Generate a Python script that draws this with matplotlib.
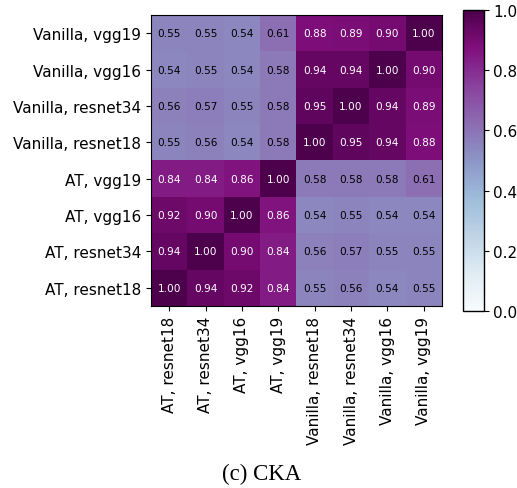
import numpy as np
import matplotlib
matplotlib.use("Agg")
import matplotlib.pyplot as plt

row_labels = ["Vanilla, vgg19", "Vanilla, vgg16", "Vanilla, resnet34", "Vanilla, resnet18",
              "AT, vgg19", "AT, vgg16", "AT, resnet34", "AT, resnet18"]
col_labels = ["AT, resnet18", "AT, resnet34", "AT, vgg16", "AT, vgg19",
              "Vanilla, resnet18", "Vanilla, resnet34", "Vanilla, vgg16", "Vanilla, vgg19"]
values = np.array([
    [0.55, 0.55, 0.54, 0.61, 0.88, 0.89, 0.90, 1.00],
    [0.54, 0.55, 0.54, 0.58, 0.94, 0.94, 1.00, 0.90],
    [0.56, 0.57, 0.55, 0.58, 0.95, 1.00, 0.94, 0.89],
    [0.55, 0.56, 0.54, 0.58, 1.00, 0.95, 0.94, 0.88],
    [0.84, 0.84, 0.86, 1.00, 0.58, 0.58, 0.58, 0.61],
    [0.92, 0.90, 1.00, 0.86, 0.54, 0.55, 0.54, 0.54],
    [0.94, 1.00, 0.90, 0.84, 0.56, 0.57, 0.55, 0.55],
    [1.00, 0.94, 0.92, 0.84, 0.55, 0.56, 0.54, 0.55],
])
caption = "(c) CKA"

W, H = 517, 489
fig = plt.figure(figsize=(W / 100, H / 100), dpi=100)
ax = fig.add_axes([151 / W, (H - 307) / H, 291 / W, 291 / H])
cax = fig.add_axes([463 / W, (H - 312) / H, 21 / W, 301 / H])

im = ax.imshow(values, cmap="BuPu", vmin=0, vmax=1, aspect="auto")
n = len(row_labels)
ax.set_xticks(range(n))
ax.set_yticks(range(n))
ax.set_xticklabels(col_labels, rotation=90, fontsize=11)
ax.set_yticklabels(row_labels, fontsize=11)
for i in range(n):
    for j in range(n):
        v = values[i, j]
        ax.text(j, i, f"{v:.2f}", ha="center", va="center", fontsize=7.6,
                color="white" if v > 0.7 else "black")

cb = fig.colorbar(im, cax=cax)
cb.set_ticks([0, 0.2, 0.4, 0.6, 0.8, 1.0])
cb.ax.tick_params(labelsize=11, pad=3)
cb.outline.set_linewidth(1)

fig.text(262 / W, 1 - 474 / H, caption, ha="center", va="center",
         fontsize=16.5, family="Liberation Serif")

fig.savefig("out.png", dpi=100)
